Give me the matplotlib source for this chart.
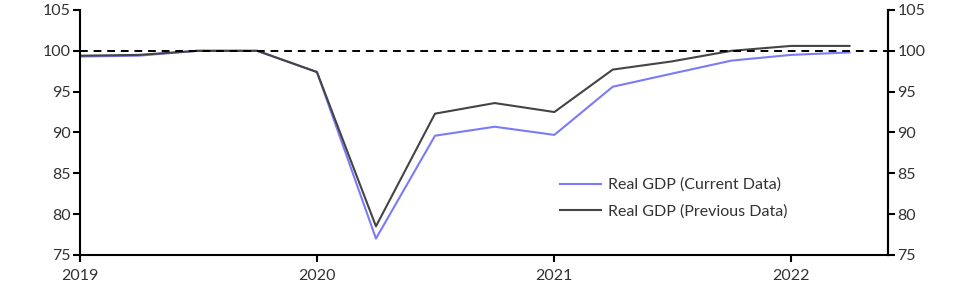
import matplotlib.pyplot as plt
import matplotlib.dates as mdates
from datetime import date

QUARTERS: list[date] = [
    date(2019, 1, 1), date(2019, 4, 1), date(2019, 7, 1), date(2019, 10, 1),
    date(2020, 1, 1), date(2020, 4, 1), date(2020, 7, 1), date(2020, 10, 1),
    date(2021, 1, 1), date(2021, 4, 1), date(2021, 7, 1), date(2021, 10, 1),
    date(2022, 1, 1), date(2022, 4, 1),
]

CURRENT: list[float] = [
    99.3, 99.4, 100.0, 100.0, 97.4, 77.0, 89.6, 90.7,
    89.7, 95.6, 97.2, 98.8, 99.5, 99.8,
]

PREVIOUS: list[float] = [
    99.4, 99.5, 100.0, 100.0, 97.4, 78.5, 92.3, 93.6,
    92.5, 97.7, 98.7, 100.0, 100.6, 100.6,
]

YEARS: list[int] = [2019, 2020, 2021, 2022]
Y_TICKS: list[int] = [75, 80, 85, 90, 95, 100, 105]

plt.rcParams["font.family"] = ["Lato", "DejaVu Sans"]

fig, ax = plt.subplots(figsize=(9.66, 2.94), dpi=100)
fig.subplots_adjust(left=0.083, right=0.919, top=0.966, bottom=0.133)

ax.plot(QUARTERS, CURRENT, color="#7b7bf7", linewidth=1.5,
        label="Real GDP (Current Data)")
ax.plot(QUARTERS, PREVIOUS, color="#444444", linewidth=1.5,
        label="Real GDP (Previous Data)")
ax.axhline(100, color="black", linestyle=(0, (4, 3)), linewidth=1.4)

ax.set_xlim(date(2019, 1, 1), date(2022, 5, 30))
ax.set_ylim(75, 105)
ax.set_yticks(Y_TICKS)
ax.set_xticks([date(y, 1, 1) for y in YEARS])
ax.xaxis.set_major_formatter(mdates.DateFormatter("%Y"))

ax2 = ax.twinx()
ax2.set_ylim(75, 105)
ax2.set_yticks(Y_TICKS)

for a in (ax, ax2):
    a.spines["top"].set_visible(False)
    for s in ("left", "right", "bottom"):
        a.spines[s].set_linewidth(1.5)
    a.tick_params(width=1.5, length=5, labelsize=11.5, colors="black",
                  labelcolor="#333333", pad=2)
ax.tick_params(axis="x", pad=5)
ax2.spines["left"].set_visible(False)
ax2.spines["bottom"].set_visible(False)

leg = ax.legend(loc="lower left", bbox_to_anchor=(0.576, 0.09),
                frameon=False, fontsize=11.5, handlelength=2.6,
                handletextpad=0.4, labelspacing=0.75)
for t in leg.get_texts():
    t.set_color("#333333")

fig.savefig("out.png")
